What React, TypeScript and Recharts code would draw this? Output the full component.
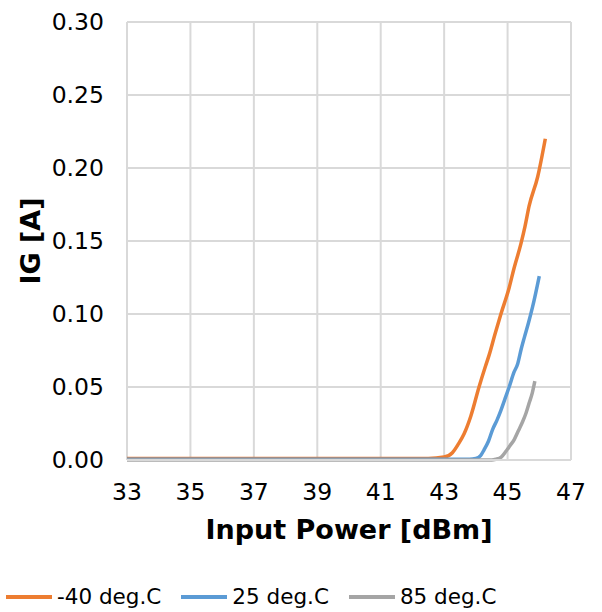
import * as React from 'react';
import {
  LineChart,
  Line,
  XAxis,
  YAxis,
  CartesianGrid,
  Legend,
} from 'recharts';

const xTicks = [33, 35, 37, 39, 41, 43, 45, 47];
const yTicks = [0, 0.05, 0.1, 0.15, 0.2, 0.25, 0.3];

const pinM40 = [33, 35, 37, 39, 41, 42.5, 43.0, 43.26, 43.45, 43.63, 43.84, 44.1, 44.3, 44.42, 44.6, 44.79, 45.05, 45.2, 45.42, 45.55, 45.68, 45.95, 46.19];
const igM40 = [0.001, 0.001, 0.001, 0.001, 0.001, 0.001, 0.002, 0.005, 0.011, 0.018, 0.03, 0.05, 0.064, 0.072, 0.086, 0.1, 0.118, 0.131, 0.148, 0.16, 0.174, 0.194, 0.22];

const pin25 = [33, 35, 37, 39, 41, 43, 43.8, 44.0, 44.15, 44.26, 44.4, 44.53, 44.66, 44.79, 44.92, 45.05, 45.2, 45.32, 45.43, 45.53, 45.66, 45.79, 46.0];
const ig25 = [0.0005, 0.0005, 0.0005, 0.0005, 0.0005, 0.0005, 0.0005, 0.001, 0.003, 0.007, 0.013, 0.021, 0.027, 0.034, 0.042, 0.05, 0.06, 0.066, 0.076, 0.084, 0.094, 0.105, 0.126];

const pin85 = [33, 35, 37, 39, 41, 43, 44.5, 44.63, 44.8, 44.95, 45.08, 45.21, 45.34, 45.47, 45.58, 45.68, 45.78, 45.86];
const ig85 = [0, 0, 0, 0, 0, 0, 0, 0.0005, 0.002, 0.006, 0.01, 0.014, 0.02, 0.026, 0.032, 0.039, 0.046, 0.054];

const toPoints = (xs: number[], ys: number[]) => xs.map((x, i) => ({ x, y: ys[i] }));

const series = [
  { name: '-40 deg.C', color: '#ED7D31', data: toPoints(pinM40, igM40) },
  { name: '25 deg.C', color: '#5B9BD5', data: toPoints(pin25, ig25) },
  { name: '85 deg.C', color: '#A5A5A5', data: toPoints(pin85, ig85) },
];

const FONT = '"DejaVu Sans", Verdana, sans-serif';

const renderLegend = () => (
  <div style={{ display: 'flex', fontFamily: FONT, fontSize: 21.5, color: '#000', lineHeight: '26px' }}>
    {series.map((s) => (
      <div key={s.name} style={{ display: 'flex', alignItems: 'center', marginRight: 20 }}>
        <div style={{ width: 46, height: 3.5, background: s.color, marginRight: 5 }} />
        <span>{s.name}</span>
      </div>
    ))}
  </div>
);

export default function App() {
  return (
    <div style={{ position: 'absolute', left: 0, top: 0 }}>
      <LineChart
        width={602}
        height={612}
        margin={{ top: 22, right: 31, left: 0, bottom: 46 }}
        style={{ fontFamily: FONT }}
      >
        <CartesianGrid stroke="#d9d9d9" strokeWidth={2} />
        <XAxis
          type="number"
          dataKey="x"
          domain={[33, 47]}
          ticks={xTicks}
          allowDataOverflow
          height={80}
          tickLine={false}
          tickSize={8}
          tickMargin={15}
          stroke="#d9d9d9"
          strokeWidth={2}
          tick={{ fill: '#000', fontSize: 23.5 }}
          label={{
            value: 'Input Power [dBm]',
            position: 'insideBottom',
            offset: 1,
            fill: '#000',
            fontSize: 27,
            fontWeight: 'bold',
          }}
        />
        <YAxis
          type="number"
          domain={[0, 0.3]}
          ticks={yTicks}
          width={127}
          axisLine={false}
          tickLine={false}
          tickSize={8}
          tickMargin={15}
          tick={{ fill: '#000', fontSize: 23.5 }}
          tickFormatter={(v: number) => v.toFixed(2)}
          label={{
            value: 'IG [A]',
            angle: -90,
            position: 'insideLeft',
            offset: 30,
            fill: '#000',
            fontSize: 27,
            fontWeight: 'bold',
            style: { textAnchor: 'middle' },
          }}
        />
        {series.map((s) => (
          <Line
            key={s.name}
            data={s.data}
            dataKey="y"
            name={s.name}
            type="monotone"
            stroke={s.color}
            strokeWidth={3.5}
            dot={false}
            isAnimationActive={false}
          />
        ))}
        <Legend
          content={renderLegend}
          wrapperStyle={{ position: 'absolute', left: 6, top: 584, width: 596 }}
        />
      </LineChart>
    </div>
  );
}
